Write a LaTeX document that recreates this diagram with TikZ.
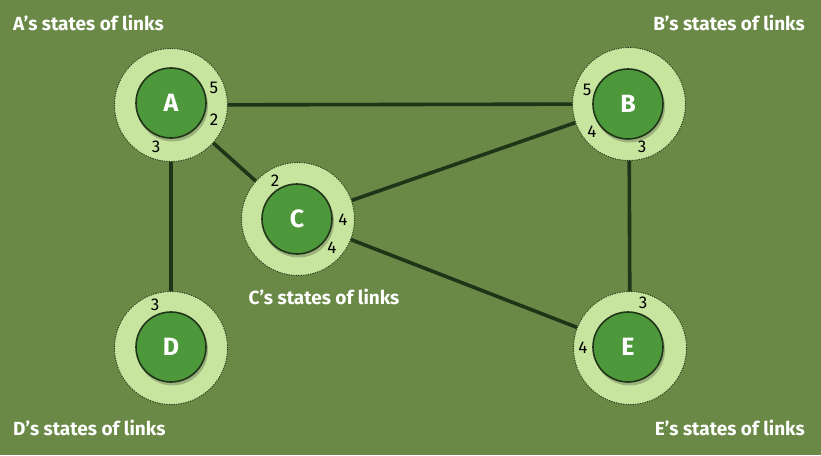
\documentclass[tikz,border=0pt]{standalone}
\usepackage{fontspec}
\setmainfont{Fira Sans}
\usepackage{xcolor}
\usetikzlibrary{positioning}

\definecolor{fieldgreen}{RGB}{106,137,70}
\definecolor{ringgreen}{RGB}{200,229,160}
\definecolor{nodegreen}{RGB}{78,152,60}
\definecolor{darkgreen}{RGB}{32,52,24}

\begin{document}
\begin{tikzpicture}[x=1pt, y=-1pt,
  ring/.style={circle, fill=ringgreen, draw=darkgreen, line width=0.9pt,
    dash pattern=on 1.2pt off 1.2pt, minimum size=113pt, inner sep=0pt},
  router/.style={circle, fill=nodegreen, draw=darkgreen, line width=1.6pt,
    minimum size=70pt, inner sep=0pt, text=white, font=\bfseries\fontsize{25}{25}\selectfont},
  rshadow/.style={circle, fill=black, opacity=0.22, minimum size=71pt, inner sep=0pt},
  link/.style={draw=darkgreen, line width=3.6pt},
  port/.style={font=\fontsize{17}{17}\selectfont, text=black, inner sep=0pt},
  caption/.style={font=\bfseries\fontsize{19}{19}\selectfont, text=white, inner sep=0pt}]
\fill[fieldgreen] (0,0) rectangle (821,455);
\useasboundingbox (0,0) rectangle (821,455);
% rings round the routers
\node[ring] (A) at (171,105) {};
\node[ring] (B) at (629,104) {};
\node[ring] (C) at (298,219) {};
\node[ring] (D) at (171,348) {};
\node[ring] (E) at (630,348) {};
% links between routers
\path[link] (A) -- (B);
\path[link] (A) -- (C);
\path[link] (A) -- (D);
\path[link] (C) -- (B);
\path[link] (C) -- (E);
\path[link] (B) -- (E);
% routers with soft shadow
\foreach \n/\x/\y in {A/171/103, B/628/104, C/297/219, D/171/347, E/628/347} {
  \node[rshadow] at (\x+1.5,\y+3) {};
  \node[router] (\n-in) at (\x,\y) {\n};
}
% port numbers
\node[port] (A5) at (214,88) {5};
\node[port] (A2) at (214,120) {2};
\node[port] (A3) at (156,147) {3};
\node[port] (B5) at (587,90) {5};
\node[port] (B4) at (592,132) {4};
\node[port] (B3) at (642,147) {3};
\node[port] (C2) at (275,181) {2};
\node[port] (C4a) at (343,220) {4};
\node[port] (C4b) at (332,248) {4};
\node[port] (D3) at (155,305) {3};
\node[port] (E3) at (643,303) {3};
\node[port] (E4) at (583,348) {4};
% captions
\node[caption, anchor=west] (A-cap) at (13,23) {A’s states of links};
\node[caption, anchor=east] (B-cap) at (805,23) {B’s states of links};
\node[caption] (C-cap) at (324,297) {C’s states of links};
\node[caption, anchor=west] (D-cap) at (13,428) {D’s states of links};
\node[caption, anchor=east] (E-cap) at (805,428) {E’s states of links};
\end{tikzpicture}
\end{document}
